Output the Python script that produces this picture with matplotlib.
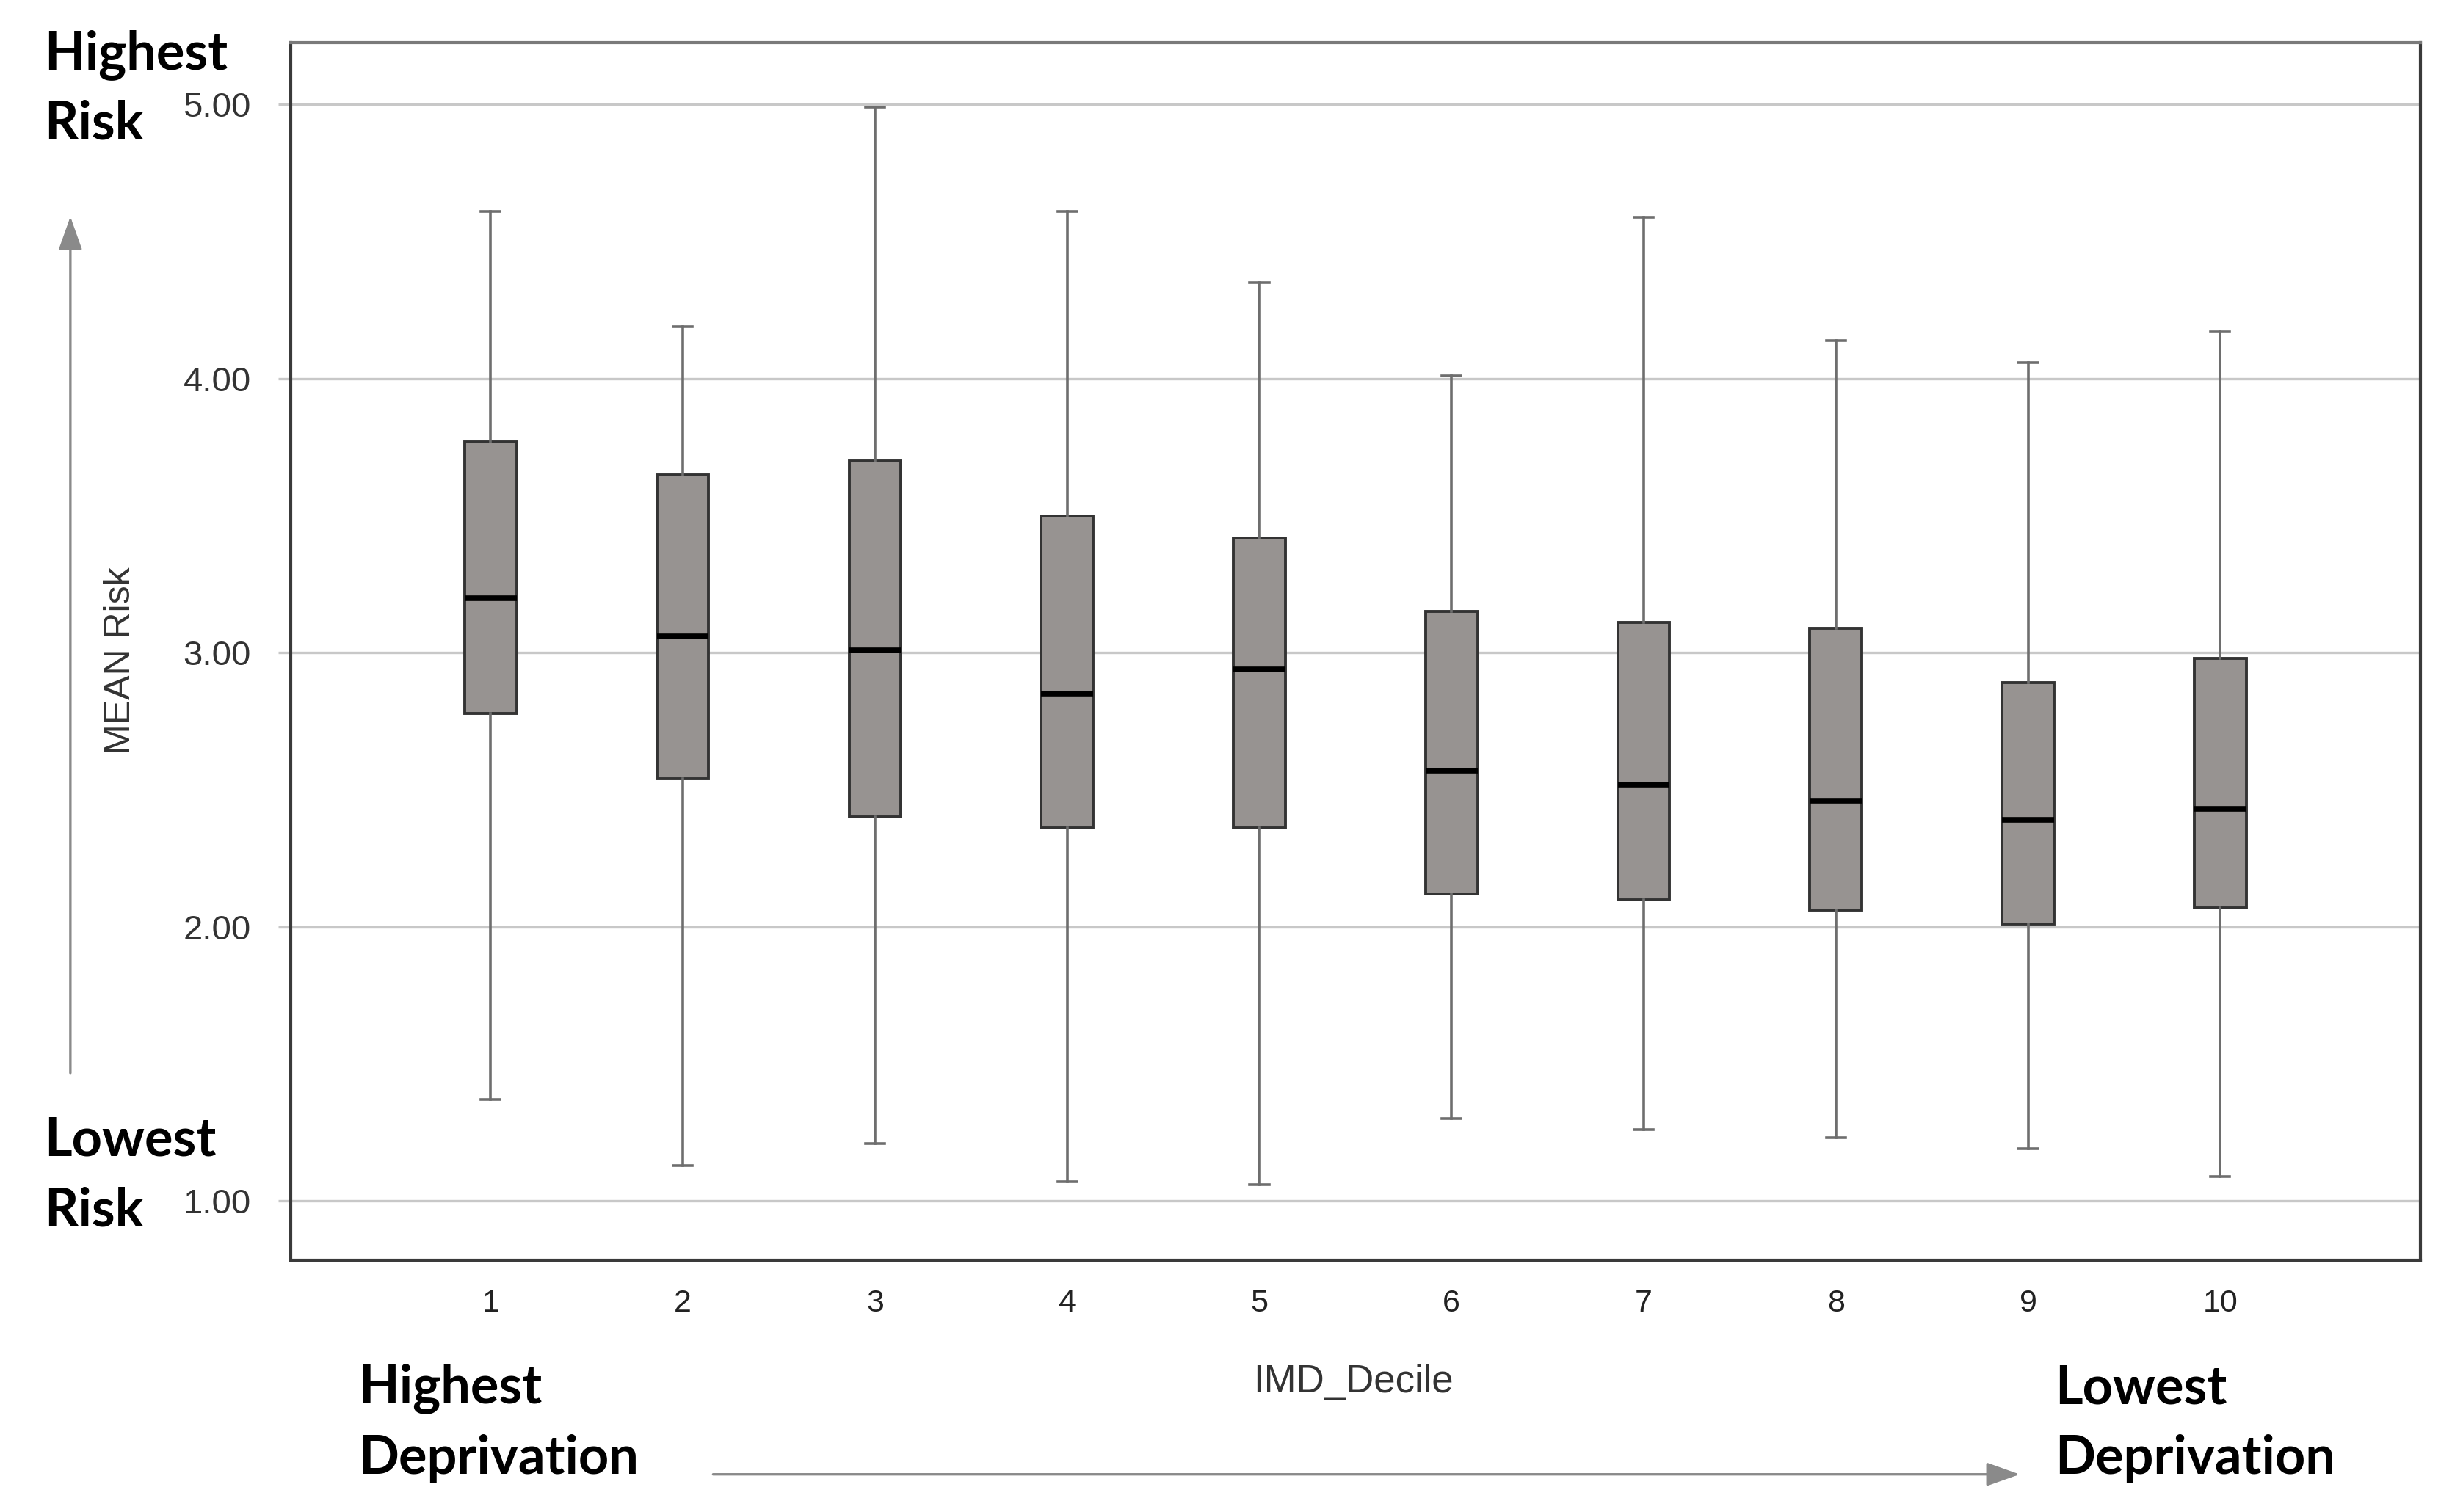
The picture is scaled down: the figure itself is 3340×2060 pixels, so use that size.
import matplotlib.pyplot as plt

# IMD decile values
deciles = ['1', '2', '3', '4', '5', '6', '7', '8', '9', '10']
whislo = [1.37, 1.13, 1.21, 1.07, 1.06, 1.30, 1.26, 1.23, 1.19, 1.09]
q1 = [2.78, 2.54, 2.40, 2.36, 2.36, 2.12, 2.10, 2.06, 2.01, 2.07]
med = [3.20, 3.06, 3.01, 2.85, 2.94, 2.57, 2.52, 2.46, 2.39, 2.43]
q3 = [3.77, 3.65, 3.70, 3.50, 3.42, 3.15, 3.11, 3.09, 2.89, 2.98]
whishi = [4.61, 4.19, 4.99, 4.61, 4.35, 4.01, 4.59, 4.14, 4.06, 4.17]

yticks = [1.0, 2.0, 3.0, 4.0, 5.0]

stats = []
for i in range(len(deciles)):
    stats.append({'label': deciles[i], 'whislo': whislo[i], 'q1': q1[i],
                  'med': med[i], 'q3': q3[i], 'whishi': whishi[i], 'fliers': []})

fig = plt.figure(figsize=(33.4, 20.6), dpi=100)
ax = fig.add_axes([0.1186, 0.1665, 0.8684, 0.8055])

ax.bxp(stats, positions=range(1, 11), widths=0.27, patch_artist=True,
       boxprops=dict(facecolor='#979391', edgecolor='#333333', linewidth=2.8),
       medianprops=dict(color='black', linewidth=5.5),
       whiskerprops=dict(color='#6e6e6e', linewidth=2.6),
       capprops=dict(color='#6e6e6e', linewidth=2.6),
       capwidths=0.1, zorder=3)

ax.set_xlim(-0.04, 11.04)
ax.set_ylim(0.784, 5.227)
ax.set_yticks(yticks)
ax.set_yticklabels(['%.2f' % v for v in yticks])
ax.grid(axis='y', color='#c8c8c8', linewidth=2.4, zorder=0)
ax.set_axisbelow(True)

for s in ax.spines.values():
    s.set_color('#3a3a3a')
    s.set_linewidth(3)
ax.spines['top'].set_color('#7a7a7a')

ax.tick_params(axis='y', length=12, width=2.4, color='#c8c8c8', pad=27,
               labelsize=34, labelcolor='#333333')
ax.tick_params(axis='x', length=0, pad=28, labelsize=31, labelcolor='#222222')
for lab in ax.get_xticklabels() + ax.get_yticklabels():
    lab.set_fontfamily('Liberation Sans')

fig.text(0.552, 0.0857, 'IMD_Decile', ha='center', va='center', fontsize=38,
         family='Liberation Sans', color='#333333')
fig.text(0.049, 0.563, 'MEAN Risk', ha='center', va='center', fontsize=36,
         family='Liberation Sans', color='#333333', rotation=90)

bold = dict(fontsize=52, fontweight='bold', family='Lato', color='black', va='center')
fig.text(0.0179, 0.964, 'Highest', **bold)
fig.text(0.0179, 0.918, 'Risk', **bold)
fig.text(0.0179, 0.2455, 'Lowest', **bold)
fig.text(0.0179, 0.199, 'Risk', **bold)
fig.text(0.146, 0.0816, 'Highest', **bold)
fig.text(0.146, 0.035, 'Deprivation', **bold)
fig.text(0.838, 0.0816, 'Lowest', **bold)
fig.text(0.838, 0.035, 'Deprivation', **bold)

arrow = dict(arrowstyle='-|>,head_length=2.8,head_width=1.0', color='#8a8a8a', lw=2.4)
ax.annotate('', xy=(0.0287, 0.858), xytext=(0.0287, 0.289),
            xycoords='figure fraction', textcoords='figure fraction', arrowprops=arrow)
ax.annotate('', xy=(0.8245, 0.0249), xytext=(0.290, 0.0249),
            xycoords='figure fraction', textcoords='figure fraction', arrowprops=arrow)

fig.savefig('out.png', dpi=100)
